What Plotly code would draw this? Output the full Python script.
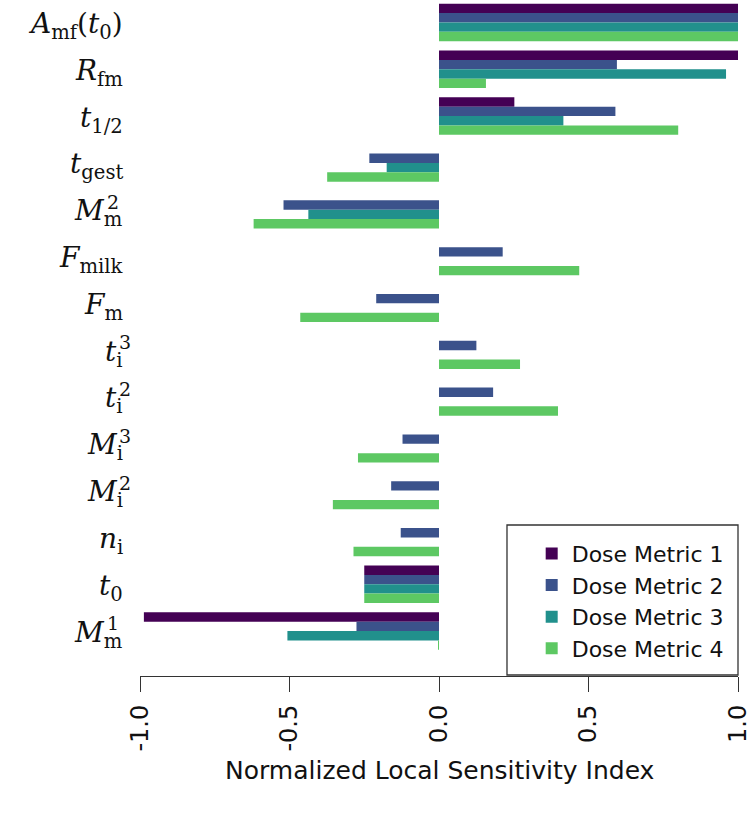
import plotly.graph_objects as go

# Parameters, listed top to bottom as in the chart
param_main = [
    "<i>A</i><sub>mf</sub>(<i>t</i><sub>0</sub>)",
    "<i>R</i><sub>fm</sub>",
    "<i>t</i><sub>1/2</sub>",
    "<i>t</i><sub>gest</sub>",
    "<i>M</i><sub>m</sub>",
    "<i>F</i><sub>milk</sub>",
    "<i>F</i><sub>m</sub>",
    "<i>t</i><sub>i</sub>",
    "<i>t</i><sub>i</sub>",
    "<i>M</i><sub>i</sub>",
    "<i>M</i><sub>i</sub>",
    "<i>n</i><sub>i</sub>",
    "<i>t</i><sub>0</sub>",
    "<i>M</i><sub>m</sub>",
]
param_sup = ["", "", "", "", "2", "", "", "3", "2", "3", "2", "", "", "1"]
param_sub = ["", "fm", "", "", "m", "", "", "i", "i", "i", "i", "", "", "m"]

series_names = ["Dose Metric 1", "Dose Metric 2", "Dose Metric 3", "Dose Metric 4"]
dm1 = [1.00, 1.00, 0.252, 0.0, 0.0, 0.0, 0.0, 0.0, 0.0, 0.0, 0.0, 0.0, -0.25, -0.987]
dm2 = [1.00, 0.595, 0.590, -0.233, -0.520, 0.213, -0.210, 0.125, 0.181, -0.122, -0.160, -0.128, -0.25, -0.276]
dm3 = [1.00, 0.960, 0.416, -0.175, -0.437, 0.0, 0.0, 0.0, 0.0, 0.0, 0.0, 0.0, -0.25, -0.507]
dm4 = [1.00, 0.157, 0.800, -0.374, -0.620, 0.469, -0.464, 0.271, 0.398, -0.271, -0.355, -0.286, -0.25, -0.003]
series_values = [dm1, dm2, dm3, dm4]
colors = ["#440154", "#3B528B", "#21908C", "#5DC863"]

x_ticks = [-1.0, -0.5, 0.0, 0.5, 1.0]
x_tick_text = ["-1.0", "-0.5", "0.0", "0.5", "1.0"]
x_title = "Normalized Local Sensitivity Index"

n = len(param_main)
ypos = list(range(n))[::-1]
bar_w = 0.2
group_half = bar_w * len(series_names) / 2

fig = go.Figure()
for k, (name, vals, col) in enumerate(zip(series_names, series_values, colors)):
    fig.add_trace(go.Bar(
        x=vals, y=ypos, orientation="h", name=name,
        width=bar_w, offset=group_half - (k + 1) * bar_w,
        marker=dict(color=col, line=dict(width=0)),
    ))

annotations = []
serif = "DejaVu Serif"
lab_size = 28
lab_shift = -15
for i in range(n):
    annotations.append(dict(
        x=0, xref="paper", y=ypos[i], yref="y", text=param_main[i],
        xanchor="right", yanchor="middle", xshift=lab_shift, yshift=-3,
        showarrow=False, font=dict(family=serif, size=lab_size, color="#111"),
    ))
    if param_sup[i]:
        subw = 0.95 * lab_size * 0.7 if param_sub[i] == "m" else 0.34 * lab_size * 0.7
        annotations.append(dict(
            x=0, xref="paper", y=ypos[i], yref="y", text=param_sup[i],
            xanchor="left", yanchor="middle", xshift=lab_shift - subw - 1, yshift=8,
            showarrow=False, font=dict(family=serif, size=int(lab_size * 0.7), color="#111"),
        ))

annotations.append(dict(
    x=0.5, xref="paper", y=0, yref="paper", text=x_title,
    xanchor="center", yanchor="middle", yshift=-94, showarrow=False,
    font=dict(family="DejaVu Sans", size=25, color="#111"),
))

fig.update_layout(
    width=754, height=813, autosize=False,
    margin=dict(l=140, r=16, t=0, b=137),
    plot_bgcolor="white", paper_bgcolor="white",
    barmode="overlay",
    showlegend=True,
    legend=dict(
        x=0.655, y=0.212, xanchor="left", yanchor="top",
        bgcolor="rgba(0,0,0,0)", borderwidth=0,
        font=dict(family="DejaVu Sans", size=22, color="#111"),
        itemwidth=30, tracegroupgap=0,
    ),
    xaxis=dict(
        range=[-1.0, 1.0], tickvals=x_ticks, ticktext=x_tick_text,
        ticks="outside", ticklen=15, tickwidth=1.3, tickcolor="#333",
        showline=True, linecolor="#333", linewidth=1.3,
        showgrid=False, zeroline=False, tickangle=-90,
        tickfont=dict(family="DejaVu Sans", size=24, color="#111"),
        ticklabelstandoff=3,
    ),
    yaxis=dict(
        range=[-0.96, 13.48], showticklabels=False, showgrid=False,
        zeroline=False, showline=False, ticks="",
    ),
    annotations=annotations,
    shapes=[dict(
        type="rect", xref="paper", yref="paper",
        x0=0.6137, x1=1.0, y0=0.0015, y1=0.2234,
        line=dict(color="#333", width=1.3), fillcolor="rgba(0,0,0,0)", layer="above",
    )],
)

fig.write_html("out.html", config={"displayModeBar": False},
               post_script="document.body.style.margin='0';")
